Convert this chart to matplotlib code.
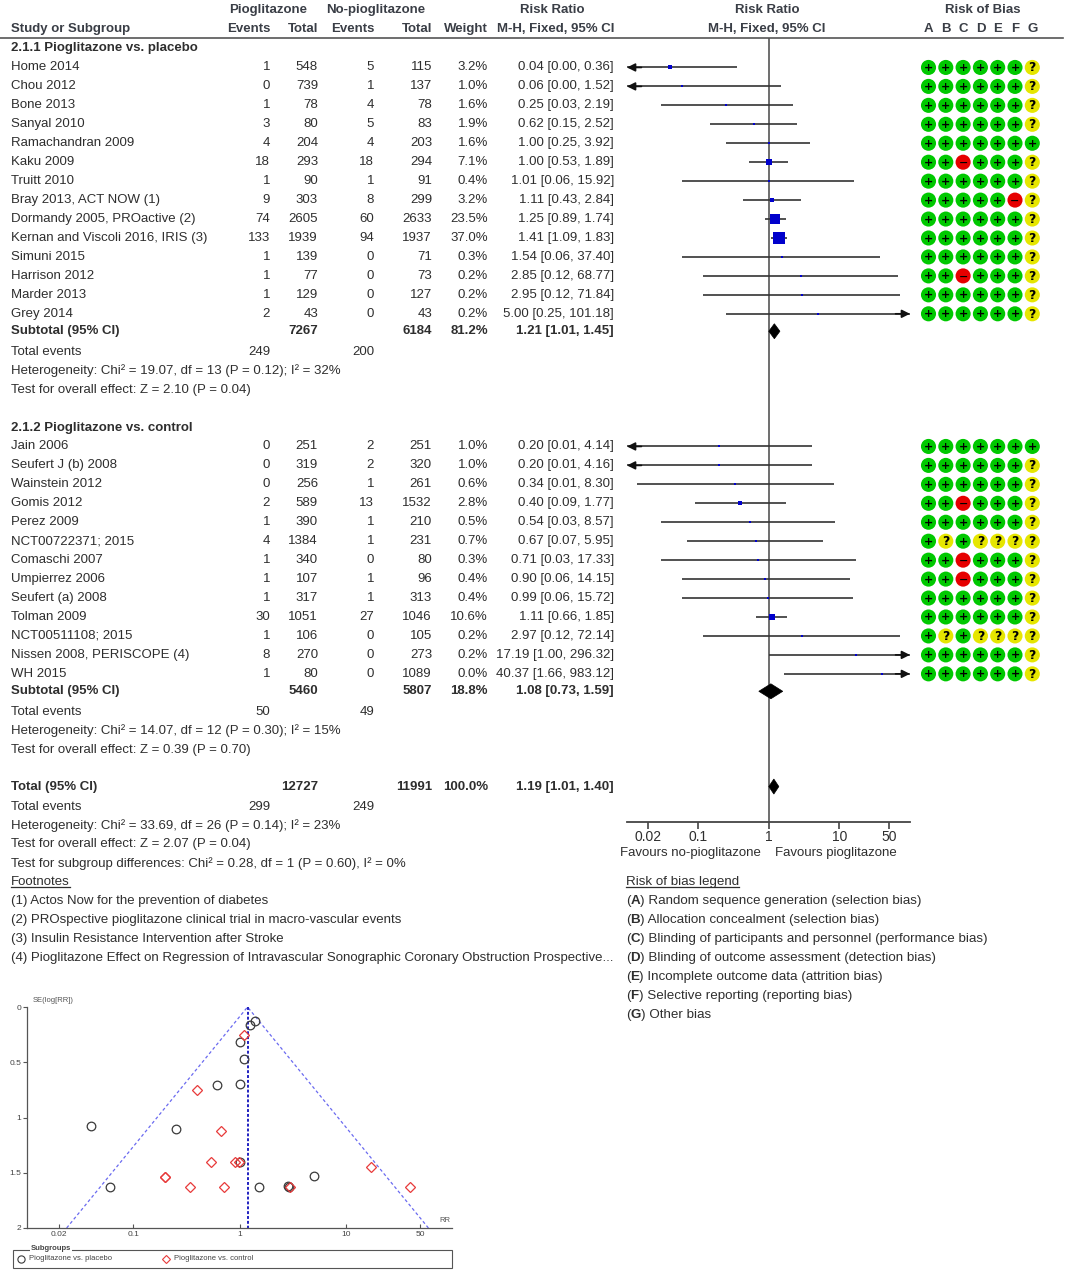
import numpy as np
import matplotlib
matplotlib.use("Agg")
import matplotlib.pyplot as plt
from matplotlib import font_manager as fm
from matplotlib.patches import Polygon, Rectangle

# ---------------- data ----------------
placebo_studies = ["Home 2014", "Chou 2012", "Bone 2013", "Sanyal 2010", "Ramachandran 2009", "Kaku 2009",
                   "Truitt 2010", "Bray 2013, ACT NOW (1)", "Dormandy 2005, PROactive (2)",
                   "Kernan and Viscoli 2016, IRIS (3)", "Simuni 2015", "Harrison 2012", "Marder 2013", "Grey 2014"]
placebo_pio_events = [1, 0, 1, 3, 4, 18, 1, 9, 74, 133, 1, 1, 1, 2]
placebo_pio_total = [548, 739, 78, 80, 204, 293, 90, 303, 2605, 1939, 139, 77, 129, 43]
placebo_ctl_events = [5, 1, 4, 5, 4, 18, 1, 8, 60, 94, 0, 0, 0, 0]
placebo_ctl_total = [115, 137, 78, 83, 203, 294, 91, 299, 2633, 1937, 71, 73, 127, 43]
placebo_weight = [3.2, 1.0, 1.6, 1.9, 1.6, 7.1, 0.4, 3.2, 23.5, 37.0, 0.3, 0.2, 0.2, 0.2]
placebo_rr = [0.04, 0.06, 0.25, 0.62, 1.00, 1.00, 1.01, 1.11, 1.25, 1.41, 1.54, 2.85, 2.95, 5.00]
placebo_lo = [0.004, 0.002, 0.03, 0.15, 0.25, 0.53, 0.06, 0.43, 0.89, 1.09, 0.06, 0.12, 0.12, 0.25]
placebo_hi = [0.36, 1.52, 2.19, 2.52, 3.92, 1.89, 15.92, 2.84, 1.74, 1.83, 37.40, 68.77, 71.84, 101.18]
placebo_rob = ["++++++?", "++++++?", "++++++?", "++++++?", "+++++++", "++-+++?", "++++++?",
               "+++++-?", "++++++?", "++++++?", "++++++?", "++-+++?", "++++++?", "++++++?"]
placebo_se = [1.08, 1.63, 1.10, 0.71, 0.70, 0.32, 1.40, 0.47, 0.165, 0.126, 1.63, 1.62, 1.63, 1.53]

control_studies = ["Jain 2006", "Seufert J (b) 2008", "Wainstein 2012", "Gomis 2012", "Perez 2009",
                   "NCT00722371; 2015", "Comaschi 2007", "Umpierrez 2006", "Seufert (a) 2008", "Tolman 2009",
                   "NCT00511108; 2015", "Nissen 2008, PERISCOPE (4)", "WH 2015"]
control_pio_events = [0, 0, 0, 2, 1, 4, 1, 1, 1, 30, 1, 8, 1]
control_pio_total = [251, 319, 256, 589, 390, 1384, 340, 107, 317, 1051, 106, 270, 80]
control_ctl_events = [2, 2, 1, 13, 1, 1, 0, 1, 1, 27, 0, 0, 0]
control_ctl_total = [251, 320, 261, 1532, 210, 231, 80, 96, 313, 1046, 105, 273, 1089]
control_weight = [1.0, 1.0, 0.6, 2.8, 0.5, 0.7, 0.3, 0.4, 0.4, 10.6, 0.2, 0.2, 0.0]
control_rr = [0.20, 0.20, 0.34, 0.40, 0.54, 0.67, 0.71, 0.90, 0.99, 1.11, 2.97, 17.19, 40.37]
control_lo = [0.0096, 0.0096, 0.014, 0.09, 0.03, 0.07, 0.03, 0.06, 0.06, 0.66, 0.12, 1.00, 1.66]
control_hi = [4.14, 4.16, 8.30, 1.77, 8.57, 5.95, 17.33, 14.15, 15.72, 1.85, 72.14, 296.32, 983.12]
control_rob = ["+++++++", "++++++?", "++++++?", "++-+++?", "++++++?", "+?+????", "++-+++?",
               "++-+++?", "++++++?", "++++++?", "+?+????", "++++++?", "++++++?"]
control_se = [1.54, 1.54, 1.63, 0.755, 1.40, 1.12, 1.63, 1.40, 1.40, 0.256, 1.63, 1.45, 1.63]

sub_names = ["2.1.1 Pioglitazone vs. placebo", "2.1.2 Pioglitazone vs. control"]
sub_pio_total = [7267, 5460]
sub_ctl_total = [6184, 5807]
sub_weight = [81.2, 18.8]
sub_rr = [1.21, 1.08]
sub_lo = [1.01, 0.73]
sub_hi = [1.45, 1.59]
sub_pio_events = [249, 50]
sub_ctl_events = [200, 49]
sub_het = ["Heterogeneity: Chi\u00b2 = 19.07, df = 13 (P = 0.12); I\u00b2 = 32%",
           "Heterogeneity: Chi\u00b2 = 14.07, df = 12 (P = 0.30); I\u00b2 = 15%"]
sub_test = ["Test for overall effect: Z = 2.10 (P = 0.04)",
            "Test for overall effect: Z = 0.39 (P = 0.70)"]

total_pio_total, total_ctl_total, total_weight = 12727, 11991, 100.0
total_rr, total_lo, total_hi = 1.19, 1.01, 1.40
total_pio_events, total_ctl_events = 299, 249
total_lines = ["Heterogeneity: Chi\u00b2 = 33.69, df = 26 (P = 0.14); I\u00b2 = 23%",
               "Test for overall effect: Z = 2.07 (P = 0.04)",
               "Test for subgroup differences: Chi\u00b2 = 0.28, df = 1 (P = 0.60), I\u00b2 = 0%"]

footnotes = ["(1) Actos Now for the prevention of diabetes",
             "(2) PROspective pioglitazone clinical trial in macro-vascular events",
             "(3) Insulin Resistance Intervention after Stroke",
             "(4) Pioglitazone Effect on Regression of Intravascular Sonographic Coronary Obstruction Prospective..."]
rob_letters = ["A", "B", "C", "D", "E", "F", "G"]
rob_legend = ["Random sequence generation (selection bias)",
              "Allocation concealment (selection bias)",
              "Blinding of participants and personnel (performance bias)",
              "Blinding of outcome assessment (detection bias)",
              "Incomplete outcome data (attrition bias)",
              "Selective reporting (reporting bias)",
              "Other bias"]
axis_ticks = [0.02, 0.1, 1, 10, 50]
axis_tick_labels = ["0.02", "0.1", "1", "10", "50"]
funnel_yticks = [0, 0.5, 1, 1.5, 2]
funnel_ytick_labels = ["0", "0.5", "1", "1.5", "2"]

# ---------------- fonts ----------------
avail = {f.name for f in fm.fontManager.ttflist}
if "Liberation Sans Narrow" in avail:
    NARROW, NS = "Liberation Sans Narrow", 11.3
else:
    NARROW, NS = "Liberation Sans", 9.5
REG = "Liberation Sans"
TXT = "#2e2e2e"
HDR = "#3a3e46"

W, H = 1065, 1270
fig = plt.figure(figsize=(W / 100, H / 100), dpi=100)
ax0 = fig.add_axes([0, 0, 1, 1])
ax0.set_xlim(0, W)
ax0.set_ylim(H, 0)
ax0.axis("off")


def ypx(r):
    return 48.5 + 18.95 * r


def t(x, y, s, ha="left", bold=False, fam=None, size=None, color=TXT, **kw):
    return ax0.text(x, y, s, ha=ha, va="center", fontfamily=fam or NARROW, fontsize=size or NS,
                    fontweight="bold" if bold else "normal", color=color, **kw)


# columns
X_NAME, X_PE, X_PT, X_CE, X_CT, X_W, X_RR = 11, 270, 318, 374, 432, 488, 614

# headers
t(268, 10, "Pioglitazone", ha="center", bold=True, color=HDR)
t(376, 10, "No-pioglitazone", ha="center", bold=True, color=HDR)
t(552, 10, "Risk Ratio", ha="center", bold=True, color=HDR)
t(767, 10, "Risk Ratio", ha="center", bold=True, color=HDR)
t(983, 10, "Risk of Bias", ha="center", bold=True, color=HDR)
t(X_NAME, 29, "Study or Subgroup", bold=True, color=HDR)
t(X_PE, 29, "Events", ha="right", bold=True, color=HDR)
t(X_PT, 29, "Total", ha="right", bold=True, color=HDR)
t(X_CE, 29, "Events", ha="right", bold=True, color=HDR)
t(X_CT, 29, "Total", ha="right", bold=True, color=HDR)
t(X_W, 29, "Weight", ha="right", bold=True, color=HDR)
t(X_RR, 29, "M-H, Fixed, 95% CI", ha="right", bold=True, color=HDR)
t(767, 29, "M-H, Fixed, 95% CI", ha="center", bold=True, color=HDR)
rob_x = [928.5 + 17.3 * i for i in range(len(rob_letters))]
for xl, L in zip(rob_x, rob_letters):
    t(xl, 29, L, ha="center", bold=True, color=HDR)
ax0.plot([0, 1063], [38, 38], color="#555555", lw=1.2)

# forest axes
fx0, fx1, fy0, fy1 = 627, 910, 38, 822
axf = fig.add_axes([fx0 / W, 1 - fy1 / H, (fx1 - fx0) / W, (fy1 - fy0) / H])
axf.set_xscale("log")
axf.set_xlim(0.01, 100)
axf.set_ylim(fy1, fy0)
axf.patch.set_alpha(0)
for s in ["top", "left", "right"]:
    axf.spines[s].set_visible(False)
axf.spines["bottom"].set_color("#444444")
axf.spines["bottom"].set_linewidth(1.3)
axf.set_yticks([])
axf.set_xticks(axis_ticks)
axf.set_xticklabels(axis_tick_labels, fontfamily=NARROW, fontsize=NS + 0.5, color=TXT)
axf.xaxis.set_minor_locator(matplotlib.ticker.NullLocator())
axf.tick_params(axis="x", direction="out", length=5, width=1.2, color="#444444", pad=1)
axf.axvline(1, color="#555555", lw=1.2, zorder=1)

rob_colors = {"+": "#00c800", "-": "#e60000", "?": "#e6e600"}
rob_sym = {"+": "+", "-": "\u2212", "?": "?"}


def study_row(r, name, pe, pt, ce, ct, w, rr, lo, hi, rob):
    y = ypx(r)
    t(X_NAME, y, name)
    t(X_PE, y, str(pe), ha="right")
    t(X_PT, y, str(pt), ha="right")
    t(X_CE, y, str(ce), ha="right")
    t(X_CT, y, str(ct), ha="right")
    t(X_W, y, f"{w:.1f}%", ha="right")
    t(X_RR, y, f"{rr:.2f} [{lo:.2f}, {hi:.2f}]", ha="right")
    # CI line, with arrows where it leaves the axis
    xmin, xmax = 0.01, 100
    l, h = max(lo, xmin), min(hi, xmax)
    axf.plot([l, h], [y, y], color="#333333", lw=1.2, zorder=2, solid_capstyle="butt")
    for end, cond in ((xmin, lo < xmin), (xmax, hi > xmax)):
        if cond:
            axf.annotate("", xy=(end, y), xytext=(end * (1.6 if end == xmin else 1 / 1.6), y),
                         arrowprops=dict(arrowstyle="-|>", color="#111111", lw=1.2,
                                         mutation_scale=12, shrinkA=0, shrinkB=0), zorder=3)
    side = max(2.4, 2.0 * np.sqrt(w))
    axf.plot([rr], [y], marker="s", ms=side * 0.72, color="#0000cc", mec="#0000cc", mew=0, zorder=4)
    for xc, c in zip(rob_x, rob):
        ax0.scatter([xc], [y], s=118, color=rob_colors[c], edgecolors="none", zorder=3)
        ax0.text(xc, y + 0.5, rob_sym[c], ha="center", va="center", fontsize=8 if c != "?" else 9,
                 fontweight="bold", color="black", fontfamily="DejaVu Sans", zorder=4)


def diamond(y, rr, lo, hi, hh=7.5):
    axf.add_patch(Polygon([(lo, y), (rr, y - hh), (hi, y), (rr, y + hh)], closed=True,
                          facecolor="black", edgecolor="black", lw=0.5, zorder=4))


groups = [
    (placebo_studies, placebo_pio_events, placebo_pio_total, placebo_ctl_events, placebo_ctl_total,
     placebo_weight, placebo_rr, placebo_lo, placebo_hi, placebo_rob),
    (control_studies, control_pio_events, control_pio_total, control_ctl_events, control_ctl_total,
     control_weight, control_rr, control_lo, control_hi, control_rob),
]
start = 0
for g, data in enumerate(groups):
    t(X_NAME, ypx(start), sub_names[g], bold=True)
    n = len(data[0])
    for i in range(n):
        study_row(start + 1 + i, *[d[i] for d in data])
    rs = start + 1 + n
    ys = ypx(rs) - 1.5
    t(X_NAME, ys, "Subtotal (95% CI)", bold=True)
    t(X_PT, ys, str(sub_pio_total[g]), ha="right", bold=True)
    t(X_CT, ys, str(sub_ctl_total[g]), ha="right", bold=True)
    t(X_W, ys, f"{sub_weight[g]:.1f}%", ha="right", bold=True)
    t(X_RR, ys, f"{sub_rr[g]:.2f} [{sub_lo[g]:.2f}, {sub_hi[g]:.2f}]", ha="right", bold=True)
    diamond(ys, sub_rr[g], sub_lo[g], sub_hi[g])
    t(X_NAME, ypx(rs + 1), "Total events")
    t(X_PE, ypx(rs + 1), str(sub_pio_events[g]), ha="right")
    t(X_CE, ypx(rs + 1), str(sub_ctl_events[g]), ha="right")
    t(X_NAME, ypx(rs + 2), sub_het[g])
    t(X_NAME, ypx(rs + 3), sub_test[g])
    start = rs + 5

rt = start  # total row
yt = ypx(rt) - 1
t(X_NAME, yt, "Total (95% CI)", bold=True)
t(X_PT, yt, str(total_pio_total), ha="right", bold=True)
t(X_CT, yt, str(total_ctl_total), ha="right", bold=True)
t(X_W, yt, f"{total_weight:.1f}%", ha="right", bold=True)
t(X_RR, yt, f"{total_rr:.2f} [{total_lo:.2f}, {total_hi:.2f}]", ha="right", bold=True)
diamond(yt, total_rr, total_lo, total_hi)
t(X_NAME, ypx(rt + 1), "Total events")
t(X_PE, ypx(rt + 1), str(total_pio_events), ha="right")
t(X_CE, ypx(rt + 1), str(total_ctl_events), ha="right")
for k, line in enumerate(total_lines):
    t(X_NAME, ypx(rt + 2 + k), line)

# favours labels
t(761, 853, "Favours no-pioglitazone", ha="right")
t(775, 853, "Favours pioglitazone", ha="left")

fig.canvas.draw()
renderer = fig.canvas.get_renderer()


def underline(txt):
    bb = txt.get_window_extent(renderer)
    inv = ax0.transData.inverted()
    (x0, y0), (x1, y1) = inv.transform([(bb.x0, bb.y0), (bb.x1, bb.y1)])
    yb = max(y0, y1) - 1.5
    ax0.plot([x0, x1], [yb, yb], color=TXT, lw=0.9)


rf = rt + 5
underline(t(X_NAME, ypx(rf), "Footnotes"))
for k, fn in enumerate(footnotes):
    t(X_NAME, ypx(rf + 1 + k), fn)

RX = 626
RS = 9.6
underline(t(RX, ypx(rf), "Risk of bias legend", fam=REG, size=RS))
for k, (L, desc) in enumerate(zip(rob_letters, rob_legend)):
    y = ypx(rf + 1 + k)
    x = RX
    for piece, b in (("(", False), (L, True), (") " + desc, False)):
        tt = t(x, y, piece, fam=REG, size=RS, bold=b)
        bb = tt.get_window_extent(renderer)
        x += bb.width

# ---------------- funnel plot ----------------
px0, px1, py0, py1 = 27, 452, 1007, 1228
axp = fig.add_axes([px0 / W, 1 - py1 / H, (px1 - px0) / W, (py1 - py0) / H])
axp.set_xscale("log")
axp.set_xlim(0.01, 100)
axp.set_ylim(2, 0)
axp.patch.set_alpha(0)
for s in ["top", "right"]:
    axp.spines[s].set_visible(False)
for s in ["left", "bottom"]:
    axp.spines[s].set_color("#555555")
    axp.spines[s].set_linewidth(0.9)
axp.set_xticks(axis_ticks)
axp.set_xticklabels(axis_tick_labels)
axp.xaxis.set_minor_locator(matplotlib.ticker.NullLocator())
axp.set_yticks(funnel_yticks)
axp.set_yticklabels(funnel_ytick_labels)
axp.tick_params(axis="x", direction="in", length=3, width=0.8, color="#555555", labelsize=6,
                labelcolor="#444444", pad=2)
axp.tick_params(axis="y", direction="out", length=3, width=0.8, color="#555555", labelsize=6,
                labelcolor="#444444", pad=1)
for lab in axp.get_xticklabels() + axp.get_yticklabels():
    lab.set_fontfamily(REG)
zc = 1.96
axp.plot([total_rr * np.exp(-zc * 2), total_rr, total_rr * np.exp(zc * 2)], [2, 0, 2],
         color="#6a6af0", lw=0.9, ls=(0, (2.5, 2)), zorder=1)
axp.plot([total_rr, total_rr], [0, 2], color="#2020c0", lw=1.4, ls=(0, (1.5, 1)), zorder=1)
axp.plot(placebo_rr, placebo_se, ls="none", marker="o", ms=6.2, mfc="none", mec="#3a3a3a", mew=0.9,
         zorder=3)
axp.plot(control_rr, control_se, ls="none", marker="D", ms=5.2, mfc="none", mec="#e83a3a", mew=0.9,
         zorder=3)
ax0.text(33, 1001, "SE(log[RR])", fontsize=5.5, fontfamily=REG, color="#555555", ha="left", va="center")
ax0.text(439, 1221, "RR", fontsize=5.5, fontfamily=REG, color="#555555", ha="left", va="center")

# funnel legend box
ax0.add_patch(Rectangle((13, 1250), 439, 18, fill=False, edgecolor="#555555", lw=0.8))
ax0.text(31, 1249, "Subgroups", fontsize=5.5, fontfamily=REG, fontweight="bold", color="#444444",
         ha="left", va="center", bbox=dict(facecolor="white", edgecolor="none", pad=0.6))
ax0.plot([21], [1259], ls="none", marker="o", ms=5.2, mfc="none", mec="#3a3a3a", mew=0.8)
ax0.text(29, 1259, "Pioglitazone vs. placebo", fontsize=5.5, fontfamily=REG, color="#444444",
         ha="left", va="center")
ax0.plot([166], [1259], ls="none", marker="D", ms=4.4, mfc="none", mec="#e83a3a", mew=0.8)
ax0.text(174, 1259, "Pioglitazone vs. control", fontsize=5.5, fontfamily=REG, color="#444444",
         ha="left", va="center")

fig.savefig("out.png", dpi=100)
